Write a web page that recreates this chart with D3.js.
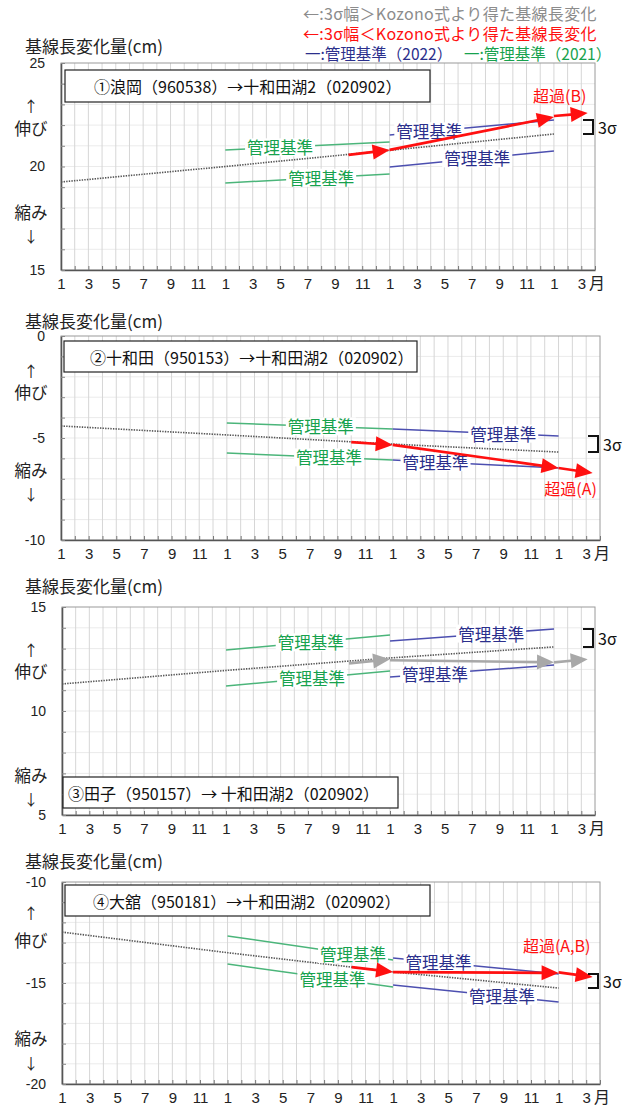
<!DOCTYPE html>
<html><head><meta charset="utf-8">
<script src="https://cdn.jsdelivr.net/npm/d3@7"></script>
<style>
html,body{margin:0;padding:0;background:#fff;}
svg{display:block;font-family:"Noto Sans CJK JP","Noto Sans",sans-serif;}
</style></head><body>
<svg id="chart" width="623" height="1108"></svg>
<script>
// ---------- data ----------
const stationTitles = [
  "①浪岡（960538）→十和田湖2（020902）",
  "②十和田（950153）→十和田湖2（020902）",
  "③田子（950157）→ 十和田湖2（020902）",
  "④大舘（950181）→十和田湖2（020902）"
];
const yDomains = [[15, 25], [-10, 0], [5, 15], [-20, -10]];
const yTickLabels = [[15, 20, 25], [-10, -5, 0], [5, 10, 15], [-20, -15, -10]];
const xTickLabels = ["1","3","5","7","9","11","1","3","5","7","9","11","1","3","5","7","9","11","1","3"];
const xStart = "2020-01";
const xEnd = "2023-04";

// linear trend of the baseline (dotted)
const trendDates = ["2020-01", "2021-01", "2022-01", "2023-01"];
const trendValues = [
  [19.25, 20.00, 20.78, 21.57],
  [-4.41, -4.85, -5.30, -5.69],
  [11.30, 11.95, 12.55, 13.08],
  [-12.48, -13.50, -14.45, -15.25]
];

// management criteria (2021 green, 2022 navy)
const limit2021Dates = ["2021-01", "2022-01"];
const limit2022Dates = ["2022-01", "2023-01"];
const upper2021 = [[20.80, 21.18], [-4.26, -4.56], [12.93, 13.65], [-12.67, -13.86]];
const lower2021 = [[19.20, 19.64], [-5.74, -6.08], [11.20, 11.92], [-14.06, -15.20]];
const upper2022 = [[21.52, 22.25], [-4.56, -4.90], [13.37, 13.94], [-13.76, -14.55]];
const lower2022 = [[19.98, 20.75], [-6.08, -6.47], [11.63, 12.21], [-15.10, -15.94]];

// baseline change from the Kozono model: three arrows per panel
const arrowDates = [["2021-10", "2022-01"], ["2022-01", "2023-01"], ["2023-01", "2023-03-15"]];
const arrowValues = [
  [[20.56, 20.80], [20.80, 22.39], [22.44, 22.58]],
  [[-5.20, -5.34], [-5.34, -6.47], [-6.47, -6.72]],
  [[12.29, 12.49], [12.44, 12.34], [12.34, 12.49]],
  [[-14.21, -14.46], [-14.46, -14.50], [-14.47, -14.70]]
];
const arrowExceeds = [true, true, false, true];
const exceedLabels = ["超過(B)", "超過(A)", "", "超過(A,B)"];

const limitLabel = "管理基準";
const yTitle = "基線長変化量(cm)";
const legendLines = [
  "←:3σ幅＞Kozono式より得た基線長変化",
  "←:3σ幅＜Kozono式より得た基線長変化"
];
const legendLimit = ["一:管理基準（2022）", "一:管理基準（2021）"];

// ---------- layout ----------
const panels = [
  {left: 61, right: 595, top: 63, bottom: 270, titleDy: -18,
   box: {x: 65, y: 70, w: 365, h: 32, tx: 94},
   up: [42, 65], down: [149, 172],
   labelAt: [16.0, 19.0, 26.9, 30.4], exceed: [-28, -18]},
  {left: 61, right: 600, top: 336, bottom: 540, titleDy: -16,
   box: {x: 64, y: 341, w: 353, h: 31, tx: 90},
   up: [34, 56], down: [134, 157],
   labelAt: [18.8, 19.4, 32.0, 27.1], exceed: [-22, 15]},
  {left: 62, right: 595, top: 607, bottom: 815, titleDy: -22,
   box: {x: 63, y: 777, w: 335, h: 31, tx: 68},
   up: [42, 64], down: [168, 191],
   labelAt: [18.2, 18.3, 31.4, 27.3], exceed: [0, 0]},
  {left: 62, right: 600, top: 882, bottom: 1084, titleDy: -22,
   box: {x: 65, y: 885, w: 365, h: 31, tx: 93},
   up: [30, 58], down: [156, 180],
   labelAt: [21.1, 19.6, 27.3, 31.9], exceed: [-36, -32]}
];

const GREEN = "#17a24e", GREEN_LINE = "#4bb57a";
const NAVY = "#2b2f8c", NAVY_LINE = "#4c4fb0";
const RED = "#ff1010", GRAY_ARROW = "#a8a8a8";

// month string -> months since start
function monthIndex(s) {
  const p = s.split("-").map(Number);
  const base = xStart.split("-").map(Number);
  return (p[0] - base[0]) * 12 + (p[1] - base[1]) + ((p[2] || 1) - 1) / 30;
}

const svg = d3.select("#chart");

// legend
const legend = svg.append("g").attr("font-size", 16);
legend.append("text").attr("x", 303).attr("y", 13).attr("dominant-baseline", "central")
  .attr("fill", "#8c8c8c").attr("letter-spacing", 0.3).text(legendLines[0]);
legend.append("text").attr("x", 303).attr("y", 33).attr("dominant-baseline", "central")
  .attr("fill", RED).attr("letter-spacing", 0.3).text(legendLines[1]);
legend.append("text").attr("x", 305).attr("y", 53).attr("dominant-baseline", "central")
  .attr("fill", NAVY).attr("font-size", 15.5).text(legendLimit[0]);
legend.append("text").attr("x", 464).attr("y", 53).attr("dominant-baseline", "central")
  .attr("fill", GREEN).attr("font-size", 15.5).text(legendLimit[1]);

function drawArrow(g, x1, y1, x2, y2, color) {
  const a = Math.atan2(y2 - y1, x2 - x1);
  const hl = 17, hw = 7.5;
  const bx = x2 - hl * Math.cos(a), by = y2 - hl * Math.sin(a);
  g.append("line").attr("x1", x1).attr("y1", y1)
    .attr("x2", bx + 3 * Math.cos(a)).attr("y2", by + 3 * Math.sin(a))
    .attr("stroke", color).attr("stroke-width", 2.7);
  const pts = [[x2, y2],
    [bx - hw * Math.sin(a), by + hw * Math.cos(a)],
    [bx + hw * Math.sin(a), by - hw * Math.cos(a)]];
  g.append("polygon").attr("points", pts.map(p => p.join(",")).join(" ")).attr("fill", color);
}

panels.forEach((L, i) => {
  const g = svg.append("g");
  const x = d3.scaleLinear().domain([0, monthIndex(xEnd)]).range([L.left, L.right]);
  const y = d3.scaleLinear().domain(yDomains[i]).range([L.bottom, L.top]);
  const nMonths = monthIndex(xEnd);

  // grid
  g.append("g").selectAll("line").data(d3.range(yDomains[i][0] + 1, yDomains[i][1]))
    .join("line").attr("x1", L.left).attr("x2", L.right)
    .attr("y1", d => y(d)).attr("y2", d => y(d)).attr("stroke", "#ebebeb");
  g.append("g").selectAll("line").data(d3.range(1, nMonths))
    .join("line").attr("x1", d => x(d)).attr("x2", d => x(d))
    .attr("y1", L.top).attr("y2", L.bottom).attr("stroke", "#d6d6d6");

  // frame
  g.append("rect").attr("x", L.left).attr("y", L.top)
    .attr("width", L.right - L.left).attr("height", L.bottom - L.top)
    .attr("fill", "none").attr("stroke", "#9a9a9a");

  // trend
  const line = d3.line().x(d => x(monthIndex(d[0]))).y(d => y(d[1]));
  g.append("path").datum(d3.zip(trendDates, trendValues[i])).attr("d", line)
    .attr("fill", "none").attr("stroke", "#555").attr("stroke-width", 1.6)
    .attr("stroke-dasharray", "1.4,1.2");

  // management criteria lines + labels
  const limits = [
    {dates: limit2021Dates, vals: upper2021[i], col: GREEN_LINE, tcol: GREEN},
    {dates: limit2021Dates, vals: lower2021[i], col: GREEN_LINE, tcol: GREEN},
    {dates: limit2022Dates, vals: upper2022[i], col: NAVY_LINE, tcol: NAVY},
    {dates: limit2022Dates, vals: lower2022[i], col: NAVY_LINE, tcol: NAVY}
  ];
  limits.forEach(l => {
    g.append("path").datum(d3.zip(l.dates, l.vals)).attr("d", line)
      .attr("fill", "none").attr("stroke", l.col).attr("stroke-width", 1.5);
  });
  limits.forEach((l, k) => {
    const m = L.labelAt[k];
    const interp = d3.scaleLinear().domain(l.dates.map(monthIndex)).range(l.vals);
    const cx = x(m), cy = y(interp(m));
    g.append("rect").attr("x", cx - 35).attr("y", cy - 9).attr("width", 70).attr("height", 18)
      .attr("fill", "#fff");
    g.append("text").attr("x", cx).attr("y", cy).attr("text-anchor", "middle")
      .attr("dominant-baseline", "central").attr("font-size", 16.5)
      .attr("fill", l.tcol).text(limitLabel);
  });

  // Kozono arrows
  const col = arrowExceeds[i] ? RED : GRAY_ARROW;
  let tip = null;
  arrowDates.forEach((d, k) => {
    const v = arrowValues[i][k];
    const x1 = x(monthIndex(d[0])), y1 = y(v[0]), x2 = x(monthIndex(d[1])), y2 = y(v[1]);
    drawArrow(g, x1, y1, x2, y2, col);
    tip = [x2, y2];
  });
  if (exceedLabels[i]) {
    g.append("text").attr("x", tip[0] + L.exceed[0]).attr("y", tip[1] + L.exceed[1])
      .attr("text-anchor", "middle").attr("dominant-baseline", "central")
      .attr("font-size", 16).attr("fill", RED).text(exceedLabels[i]);
  }

  // 3σ bracket: from trend end up to the 2022 upper criterion
  const last = trendValues[i].length - 1;
  const by0 = y(upper2022[i][1]), by1 = y(trendValues[i][last]);
  const bx = L.right - 2;
  g.append("path").attr("d", `M${bx - 10},${by0}H${bx}V${by1}H${bx - 10}`)
    .attr("fill", "none").attr("stroke", "#111").attr("stroke-width", 2);
  g.append("text").attr("x", bx + 5).attr("y", (by0 + by1) / 2)
    .attr("dominant-baseline", "central").attr("font-size", 16).attr("fill", "#111").text("3σ");

  // axes
  const xAxis = d3.axisBottom(x).tickValues(d3.range(0, nMonths + 1))
    .tickSizeInner(-4).tickSizeOuter(0).tickPadding(8)
    .tickFormat(d => (d % 2 === 0 && d / 2 < xTickLabels.length) ? xTickLabels[d / 2] : "");
  const gx = g.append("g").attr("transform", `translate(0,${L.bottom})`).call(xAxis);
  gx.select(".domain").attr("stroke", "#555").attr("stroke-width", 1.6);
  gx.selectAll(".tick line").attr("stroke", "#777");
  gx.selectAll(".tick text").attr("font-size", 15).attr("fill", "#222")
    .attr("font-family", "'Liberation Sans Narrow','Liberation Sans',sans-serif");
  g.append("text").attr("x", L.right + 2).attr("y", L.bottom + 12)
    .attr("text-anchor", "middle").attr("dominant-baseline", "central")
    .attr("font-size", 16).attr("fill", "#222").text("月");

  const yAxis = d3.axisLeft(y).tickValues(d3.range(yDomains[i][0], yDomains[i][1] + 1))
    .tickSizeInner(-4).tickSizeOuter(0).tickPadding(16)
    .tickFormat(d => yTickLabels[i].includes(d) ? String(d) : "");
  const gy = g.append("g").attr("transform", `translate(${L.left},0)`).call(yAxis);
  gy.select(".domain").attr("stroke", "#555").attr("stroke-width", 1.6);
  gy.selectAll(".tick line").attr("stroke", "#888");
  gy.selectAll(".tick text").attr("font-size", 14).attr("fill", "#222")
    .attr("font-family", "'Liberation Sans','Noto Sans',sans-serif");

  // axis title and direction hints
  g.append("text").attr("x", 25).attr("y", L.top + L.titleDy).attr("dominant-baseline", "central")
    .attr("font-size", 17).attr("fill", "#222").text(yTitle);
  [["↑", L.up[0], 15], ["伸び", L.up[1], 16.5], ["縮み", L.down[0], 16.5], ["↓", L.down[1], 15]].forEach(t => {
    g.append("text").attr("x", 31).attr("y", L.top + t[1]).attr("text-anchor", "middle")
      .attr("dominant-baseline", "central").attr("font-size", t[2]).attr("fill", "#222").text(t[0]);
  });

  // station title box
  g.append("rect").attr("x", L.box.x).attr("y", L.box.y).attr("width", L.box.w).attr("height", L.box.h)
    .attr("fill", "#fff").attr("stroke", "#222").attr("stroke-width", 1.2);
  g.append("text").attr("x", L.box.tx).attr("y", L.box.y + L.box.h / 2)
    .attr("dominant-baseline", "central").attr("font-size", 16).attr("fill", "#111")
    .text(stationTitles[i]);
});
</script>
</body></html>
